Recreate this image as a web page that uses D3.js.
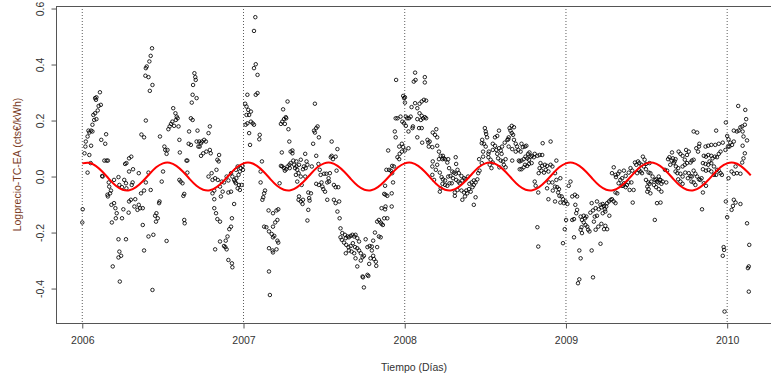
<!DOCTYPE html>
<html>
<head>
<meta charset="utf-8">
<script src="https://cdn.jsdelivr.net/npm/d3@7"></script>
<style>
  body { margin: 0; background: #fff; }
  svg { display: block; }
  text { font-family: "Liberation Sans", Arial, sans-serif; }
</style>
</head>
<body>
<svg id="chart" width="771" height="376"></svg>
<script>
// Axis ticks
const yearTicks = [2006, 2007, 2008, 2009, 2010];
const valueTicks = [-0.4, -0.2, 0.0, 0.2, 0.4, 0.6];

// Daily observations: [days since 2006-01-01, log price], in six consecutive stretches
const part1 = [[1,-0.117],[0,-0.164],[12,0.014],[5,0.083],[7,0.107],[8,0.125],[12,0.143],[16,0.157],[14,0.164],[20,0.164],[23,0.161],[20,0.110],[16,0.077],[19,0.048],[23,0.185],[27,0.202],[25,0.220],[29,0.226],[32,0.205],[35,0.236],[37,0.252],[29,0.280],[32,0.283],[31,0.274],[40,0.301],[42,0.256],[43,0.131],[52,0.117],[54,0.151],[50,0.057],[55,0.057],[58,0.057],[45,0.002],[46,0.000],[60,-0.021],[61,-0.036],[65,-0.050],[63,-0.060],[58,-0.071],[57,-0.065],[66,-0.101],[72,-0.095],[75,-0.113],[78,-0.131],[76,-0.149],[67,-0.164],[72,-0.012],[82,-0.002],[84,-0.030],[90,-0.038],[95,-0.012],[99,-0.024],[100,-0.042],[93,-0.117],[90,-0.149],[105,-0.129],[106,-0.089],[110,-0.083],[97,0.045],[100,0.048],[106,0.065],[111,0.071],[106,0.018],[115,0.026],[114,-0.021],[112,-0.030],[120,-0.081],[118,-0.107],[125,-0.119],[128,-0.101],[131,-0.113],[137,-0.113],[128,0.012],[133,-0.060],[140,-0.050],[150,0.014],[155,-0.048],[144,-0.021],[82,-0.224],[99,-0.224],[84,-0.268],[88,-0.283],[82,-0.289],[69,-0.321],[85,-0.375],[137,-0.173],[150,-0.214],[161,-0.208],[140,-0.264],[159,-0.405],[165,-0.140],[168,-0.131],[171,-0.149],[174,-0.095],[175,-0.089],[167,-0.161],[191,-0.230],[144,0.200],[134,0.150],[140,0.140],[176,0.143],[144,0.387],[146,0.393],[143,0.360],[150,0.355],[159,0.327],[153,0.306],[152,0.411],[155,0.431],[158,0.458],[180,-0.018],[183,0.018],[186,0.107],[188,0.095],[191,0.081],[193,0.095],[195,0.169],[198,0.179],[201,0.188],[204,0.196],[208,0.181],[212,0.202],[214,0.214],[216,0.208],[206,0.244],[211,0.226],[218,0.179],[220,0.131],[221,0.086],[236,0.057],[220,-0.012],[223,-0.018],[227,-0.024],[231,-0.062],[229,-0.069],[231,-0.155],[232,-0.167]];
const part2 = [[254,0.369],[256,0.355],[257,0.345],[251,0.327],[250,0.292],[259,0.280],[248,0.264],[246,0.208],[250,0.202],[242,0.161],[241,0.117],[246,0.113],[238,0.057],[238,0.014],[261,0.164],[259,0.125],[265,0.125],[269,0.119],[263,0.107],[266,0.107],[271,0.125],[276,0.131],[280,0.125],[286,0.155],[289,0.179],[269,0.074],[274,0.083],[281,0.089],[289,0.095],[291,0.083],[310,0.077],[306,0.060],[309,0.054],[304,0.024],[293,0.012],[286,0.000],[301,-0.006],[295,-0.012],[307,-0.012],[316,-0.018],[312,-0.036],[299,-0.050],[295,-0.060],[318,-0.054],[321,-0.021],[331,-0.014],[327,0.000],[337,0.012],[340,0.000],[348,0.024],[352,0.036],[344,-0.012],[346,-0.018],[349,-0.006],[354,0.006],[357,0.018],[359,0.030],[363,0.038],[364,0.024],[348,-0.024],[355,-0.030],[361,-0.030],[352,-0.042],[357,-0.048],[299,-0.081],[314,-0.071],[331,-0.057],[337,-0.054],[344,-0.098],[299,-0.113],[303,-0.131],[306,-0.152],[312,-0.161],[339,-0.149],[337,-0.179],[333,-0.188],[329,-0.214],[325,-0.229],[312,-0.232],[321,-0.248],[324,-0.252],[327,-0.260],[301,-0.260],[331,-0.298],[339,-0.310],[340,-0.324],[369,0.260],[372,0.250],[376,0.238],[382,0.232],[372,0.220],[378,0.220],[370,0.185],[374,0.190],[382,0.196],[386,0.190],[389,0.185],[378,0.155],[380,0.113],[374,0.292],[393,0.292],[397,0.298],[392,0.569],[389,0.520],[393,0.401],[389,0.387],[397,0.363],[402,0.149],[401,0.133],[407,0.054],[404,0.018],[404,-0.021],[414,-0.050],[412,-0.060],[410,-0.074],[408,-0.083],[422,-0.121],[432,-0.131],[440,-0.121],[444,-0.117],[442,-0.155],[437,-0.164],[432,-0.179],[412,-0.179],[417,-0.181],[423,-0.196],[429,-0.205],[435,-0.212],[432,-0.217],[442,-0.229],[444,-0.236],[423,-0.256],[431,-0.264],[432,-0.271],[440,-0.260],[423,-0.339],[425,-0.423],[447,-0.024],[450,0.188],[453,0.196],[457,0.205],[461,0.212],[462,0.208],[459,0.188],[465,0.268],[455,0.240],[467,0.169],[469,0.125],[472,0.089],[476,0.093],[476,0.083],[452,0.086],[450,0.038],[453,0.036],[457,0.030],[459,0.021],[462,0.026],[465,0.036],[469,0.042],[470,0.030],[472,0.048],[478,0.057],[480,0.042],[482,0.030],[485,0.036],[487,0.024],[490,0.012],[484,0.006],[491,0.042],[485,0.054],[487,-0.018],[491,-0.071],[490,-0.083],[495,0.060],[495,0.000]];
const part3 = [[497,-0.030],[499,-0.098],[500,-0.083],[495,-0.089],[505,0.081],[508,0.054],[510,0.042],[502,0.036],[500,0.026],[506,0.030],[505,0.000],[512,-0.057],[518,-0.060],[514,-0.077],[515,-0.086],[512,-0.119],[510,-0.157],[520,0.036],[523,0.117],[527,0.260],[525,0.164],[527,0.157],[530,0.173],[533,0.179],[536,0.140],[530,0.074],[535,0.045],[538,0.024],[540,0.006],[530,-0.026],[536,-0.030],[542,-0.021],[544,-0.036],[546,-0.045],[550,-0.054],[548,0.010],[553,0.010],[558,-0.006],[561,0.012],[555,-0.021],[559,-0.018],[555,-0.083],[563,0.069],[565,0.074],[568,0.062],[574,0.071],[565,0.125],[578,0.098],[576,0.021],[570,-0.030],[574,-0.038],[580,-0.038],[570,-0.083],[574,-0.095],[582,-0.089],[578,-0.125],[583,-0.149],[585,-0.185],[589,-0.202],[585,-0.217],[588,-0.226],[595,-0.208],[597,-0.220],[601,-0.214],[604,-0.217],[608,-0.212],[612,-0.208],[616,-0.214],[619,-0.208],[623,-0.220],[627,-0.232],[593,-0.236],[598,-0.244],[603,-0.252],[608,-0.248],[613,-0.238],[618,-0.252],[623,-0.256],[627,-0.264],[597,-0.274],[604,-0.264],[610,-0.268],[616,-0.274],[619,-0.292],[623,-0.321],[631,-0.274],[635,-0.288],[638,-0.283],[631,-0.300],[642,-0.224],[646,-0.252],[651,-0.248],[656,-0.250],[659,-0.229],[663,-0.200],[668,-0.252],[672,-0.214],[676,-0.217],[656,-0.264],[659,-0.283],[661,-0.295],[665,-0.304],[666,-0.319],[653,-0.292],[650,-0.312],[646,-0.351],[648,-0.355],[635,-0.357],[638,-0.396],[636,-0.360],[668,-0.161],[672,-0.155],[676,-0.164],[678,-0.169],[681,-0.173],[684,-0.149],[678,-0.113],[686,-0.117],[691,-0.149],[687,-0.107],[701,-0.107],[684,-0.062],[687,-0.065],[691,-0.069],[701,-0.060],[686,-0.033],[689,0.024],[695,0.024],[699,0.021],[704,-0.021],[702,0.038],[693,0.093],[708,0.161],[710,0.140],[710,0.208],[714,0.208],[721,0.214],[725,0.196],[711,0.345],[727,0.288],[729,0.280],[731,0.283],[731,0.264],[733,0.214],[736,0.208],[740,0.208],[729,0.190],[733,0.181],[739,0.161],[718,0.107],[724,0.117],[719,0.081],[714,0.069],[718,0.062],[724,0.089],[727,0.105],[731,0.093],[739,0.101],[706,0.036],[702,0.012]];
const part4 = [[754,0.371],[755,0.345],[751,0.339],[776,0.355],[776,0.336],[746,0.248],[748,0.173],[749,0.179],[744,0.214],[754,0.262],[759,0.244],[764,0.260],[769,0.268],[774,0.274],[779,0.271],[764,0.226],[769,0.217],[772,0.208],[776,0.212],[779,0.208],[767,0.202],[759,0.205],[763,0.173],[769,0.173],[759,0.140],[770,0.121],[782,0.131],[784,0.121],[787,0.125],[785,0.107],[794,0.157],[799,0.149],[802,0.169],[804,0.140],[793,0.105],[804,0.110],[808,0.089],[812,0.074],[816,0.062],[817,0.074],[822,0.062],[819,0.065],[808,0.062],[794,0.054],[793,0.036],[801,0.024],[804,0.042],[810,0.014],[793,0.006],[797,-0.012],[814,-0.002],[817,-0.010],[822,-0.014],[827,0.050],[829,0.062],[831,0.030],[846,0.069],[847,0.045],[838,0.018],[842,0.014],[846,0.010],[850,0.024],[853,0.012],[859,0.002],[829,0.000],[834,0.002],[840,-0.006],[847,-0.012],[852,-0.018],[855,-0.024],[861,-0.014],[865,-0.006],[868,-0.010],[874,0.000],[816,-0.026],[822,-0.030],[827,-0.033],[832,-0.024],[837,-0.024],[812,-0.042],[810,-0.054],[844,-0.057],[850,-0.048],[859,-0.050],[865,-0.057],[870,-0.050],[876,-0.045],[884,-0.038],[877,-0.026],[882,-0.021],[887,-0.030],[891,-0.021],[887,-0.014],[895,-0.010],[897,0.012],[900,0.021],[844,-0.069],[861,-0.083],[867,-0.071],[872,-0.060],[880,-0.054],[891,-0.074],[887,-0.101],[899,0.062],[905,0.048],[908,0.071],[912,0.173],[914,0.161],[915,0.152],[917,0.140],[906,0.131],[905,0.119],[910,0.117],[914,0.107],[908,0.089],[920,0.081],[920,0.069],[921,0.089],[925,0.060],[923,0.042],[927,0.030],[930,0.050],[935,0.140],[940,0.145],[944,0.164],[930,0.117],[935,0.110],[938,0.095],[930,0.095],[940,0.081],[944,0.101],[948,0.093],[950,0.081],[942,0.065],[948,0.057],[953,0.054],[955,0.042],[945,0.033],[959,0.062],[951,0.107],[957,0.121],[963,0.131],[966,0.140],[968,0.173],[973,0.181],[978,0.176],[970,0.164],[973,0.155],[976,0.149],[965,0.133],[978,0.131],[966,0.107],[974,0.098],[982,0.117],[985,0.107],[988,0.095],[982,0.089],[974,0.057],[989,0.057],[991,0.026],[959,0.033]];
const part5 = [[995,0.117],[998,0.105],[1003,0.107],[1006,0.110],[993,0.089],[991,0.054],[995,0.057],[1000,0.062],[1004,0.071],[1010,0.081],[1013,0.086],[1008,0.065],[1012,0.060],[1016,0.071],[1019,0.074],[1023,0.069],[1003,0.042],[1008,0.038],[1012,0.045],[1018,0.048],[995,0.026],[1000,0.033],[1025,0.081],[1031,0.074],[1036,0.077],[1042,0.077],[1043,0.119],[1061,0.125],[1038,0.048],[1042,0.038],[1048,0.042],[1053,0.038],[1061,0.042],[1065,0.036],[1036,0.030],[1040,0.021],[1046,0.014],[1050,0.024],[1056,0.018],[1034,0.012],[1074,0.057],[1071,0.012],[1057,-0.021],[1065,-0.021],[1074,-0.012],[1083,-0.006],[1071,-0.036],[1076,-0.038],[1080,-0.045],[1053,-0.042],[1066,-0.050],[1078,-0.057],[1081,-0.069],[1086,-0.071],[1089,-0.081],[1095,-0.089],[1091,-0.095],[1099,-0.098],[1102,-0.033],[1106,-0.018],[1025,-0.018],[1027,-0.033],[1033,-0.057],[1056,-0.081],[1071,-0.089],[1083,-0.093],[1031,-0.181],[1033,-0.250],[1089,-0.238],[1093,-0.188],[1096,-0.155],[1110,-0.071],[1116,-0.065],[1121,-0.071],[1110,-0.155],[1114,-0.152],[1119,-0.131],[1117,-0.101],[1121,-0.119],[1129,-0.143],[1132,-0.155],[1136,-0.140],[1139,-0.149],[1142,-0.143],[1136,-0.164],[1140,-0.173],[1144,-0.179],[1131,-0.181],[1129,-0.190],[1132,-0.202],[1114,-0.217],[1146,-0.190],[1149,-0.196],[1151,-0.129],[1157,-0.121],[1163,-0.113],[1166,-0.089],[1154,-0.095],[1161,-0.143],[1166,-0.140],[1170,-0.117],[1174,-0.101],[1176,-0.110],[1179,-0.098],[1182,-0.105],[1184,-0.117],[1187,-0.107],[1189,-0.095],[1193,-0.089],[1197,-0.083],[1200,-0.081],[1204,-0.089],[1208,-0.095],[1185,-0.125],[1179,-0.131],[1159,-0.161],[1163,-0.190],[1169,-0.179],[1176,-0.169],[1182,-0.188],[1185,-0.176],[1189,-0.188],[1194,-0.140],[1174,-0.240],[1126,-0.264],[1129,-0.292],[1154,-0.264],[1157,-0.360],[1126,-0.367],[1123,-0.381],[1200,0.012],[1204,0.033],[1208,0.006],[1209,-0.002],[1214,0.010],[1217,0.018],[1219,-0.012],[1223,-0.006],[1227,-0.024],[1225,-0.033],[1231,-0.038],[1234,-0.030],[1231,0.002],[1227,0.021],[1238,0.014],[1237,-0.021],[1240,-0.048],[1212,-0.060],[1208,-0.057],[1215,-0.024],[1222,-0.033]];
const part6 = [[1242,0.030],[1246,0.021],[1244,-0.021],[1249,-0.048],[1247,-0.093],[1252,0.050],[1255,0.042],[1259,0.054],[1262,0.048],[1267,0.042],[1270,0.071],[1274,0.060],[1277,0.045],[1272,0.036],[1261,0.024],[1265,0.018],[1268,0.012],[1277,0.026],[1257,0.012],[1285,0.048],[1287,0.012],[1283,0.014],[1277,-0.012],[1282,-0.021],[1285,-0.026],[1289,-0.018],[1280,-0.036],[1283,-0.045],[1287,-0.060],[1280,-0.054],[1292,0.000],[1297,-0.012],[1300,-0.010],[1302,-0.018],[1306,0.000],[1308,-0.012],[1305,-0.021],[1310,-0.012],[1312,-0.026],[1315,-0.018],[1295,-0.030],[1300,-0.038],[1306,-0.045],[1312,-0.054],[1302,-0.095],[1310,-0.093],[1297,-0.155],[1320,0.024],[1325,0.021],[1323,-0.021],[1327,0.062],[1330,0.069],[1335,0.057],[1338,0.065],[1342,0.054],[1336,0.086],[1344,0.062],[1340,0.048],[1332,0.042],[1345,0.036],[1350,0.030],[1351,0.089],[1355,0.081],[1360,0.074],[1365,0.060],[1368,0.095],[1370,0.077],[1374,0.089],[1378,0.050],[1381,0.057],[1385,0.060],[1370,0.048],[1365,0.042],[1360,0.036],[1344,0.018],[1348,0.012],[1355,0.010],[1360,0.000],[1366,0.014],[1350,-0.010],[1355,-0.018],[1360,-0.026],[1374,0.012],[1378,0.002],[1381,0.000],[1385,0.021],[1389,0.010],[1372,-0.006],[1380,-0.018],[1385,-0.021],[1389,-0.030],[1393,0.000],[1397,-0.010],[1400,-0.012],[1395,0.089],[1398,0.117],[1397,0.107],[1391,0.101],[1385,0.161],[1393,0.157],[1412,0.107],[1418,0.110],[1425,0.113],[1434,0.113],[1442,0.117],[1451,0.121],[1436,0.164],[1408,0.074],[1413,0.071],[1418,0.077],[1425,0.074],[1428,0.065],[1433,0.071],[1438,0.069],[1442,0.081],[1446,0.089],[1406,0.048],[1412,0.045],[1418,0.042],[1421,0.054],[1425,0.048],[1431,0.036],[1406,0.026],[1413,0.021],[1419,0.024],[1425,0.018],[1431,0.006],[1436,0.006],[1442,0.021],[1446,0.012],[1449,0.006],[1403,-0.006],[1408,-0.024],[1406,-0.057],[1413,-0.033],[1404,-0.117],[1438,0.024],[1458,0.193],[1461,0.145],[1464,0.133],[1468,0.121],[1472,0.113],[1476,0.125],[1463,0.107],[1466,0.107],[1457,0.095],[1464,-0.006],[1471,0.018],[1476,0.010],[1483,0.012],[1491,0.010],[1480,0.036],[1476,0.164],[1483,0.161],[1487,0.164],[1491,0.176],[1495,0.179],[1501,0.185],[1496,0.161],[1504,0.205],[1502,0.238],[1486,0.252],[1498,0.143],[1496,0.110],[1501,0.083],[1498,0.065],[1495,0.050],[1506,0.129],[1458,-0.089],[1476,-0.083],[1480,-0.093],[1474,-0.105],[1471,-0.119],[1491,-0.098],[1461,-0.145],[1506,-0.167],[1453,-0.252],[1454,-0.262],[1451,-0.283],[1455,-0.482],[1511,-0.244],[1510,-0.321],[1508,-0.327],[1510,-0.411]];

// Fitted seasonal component, sampled every half month from 2006.0
const fitValues = [
  0.047,0.049,0.038,0.017,-0.009,-0.033,-0.047,-0.049,-0.038,-0.017,0.009,0.033,
  0.047,0.049,0.038,0.017,-0.009,-0.033,-0.047,-0.049,-0.038,-0.017,0.009,0.033,
  0.047,0.049,0.038,0.017,-0.009,-0.033,-0.047,-0.049,-0.038,-0.017,0.009,0.033,
  0.047,0.049,0.038,0.017,-0.009,-0.033,-0.047,-0.049,-0.038,-0.017,0.009,0.033,
  0.047,0.049,0.038,0.017,-0.009,-0.033,-0.047,-0.049,-0.038,-0.017,0.009,0.033,
  0.047,0.049,0.038,0.017,-0.009,-0.033,-0.047,-0.049,-0.038,-0.017,0.009,0.033,
  0.047,0.049,0.038,0.017,-0.009,-0.033,-0.047,-0.049,-0.038,-0.017,0.009,0.033,
  0.047,0.049,0.038,0.017,-0.009,-0.033,-0.047,-0.049,-0.038,-0.017,0.009,0.033,
  0.047,0.049,0.038,0.017
];
const fitLast = [2010.146, 0.004];

const svg = d3.select("#chart");
const plotLeft = 56, plotRight = 782, plotTop = 6, plotBottom = 323;

const x = d3.scaleLinear().domain([2005.837, 2010.34]).range([plotLeft, plotRight]);
const y = d3.scaleLinear().domain([-0.523, 0.609]).range([plotBottom, plotTop]);
const dayToYear = d => 2006 + d / 365.25;

const points = [].concat(part1, part2, part3, part4, part5, part6);
const fit = fitValues.map((v, k) => [2006 + k / 24, v]).concat([fitLast]);

// Year separators
svg.append("g").selectAll("line").data(yearTicks).join("line")
  .attr("x1", d => x(d)).attr("x2", d => x(d))
  .attr("y1", plotTop).attr("y2", plotBottom)
  .attr("stroke", "#333").attr("stroke-width", 0.8)
  .attr("stroke-dasharray", "1,2");

// Observations
svg.append("g").selectAll("circle").data(points).join("circle")
  .attr("cx", d => x(dayToYear(d[0])))
  .attr("cy", d => y(d[1]))
  .attr("r", 1.75)
  .attr("fill", "none")
  .attr("stroke", "#000")
  .attr("stroke-width", 0.85);

// Seasonal fit
svg.append("path").datum(fit)
  .attr("fill", "none")
  .attr("stroke", "#ff0000")
  .attr("stroke-width", 2)
  .attr("d", d3.line().x(d => x(d[0])).y(d => y(d[1])).curve(d3.curveNatural));

// Box
svg.append("rect")
  .attr("x", plotLeft + 0.5).attr("y", plotTop + 0.5)
  .attr("width", plotRight - plotLeft).attr("height", plotBottom - plotTop)
  .attr("fill", "none").attr("stroke", "#555").attr("stroke-width", 1);

// Axes
const xAxis = d3.axisBottom(x).tickValues(yearTicks).tickFormat(d3.format("d")).tickSize(5).tickPadding(8);
const gx = svg.append("g").attr("transform", `translate(0,${plotBottom + 0.5})`).call(xAxis);
gx.select(".domain").remove();
gx.selectAll("line").attr("stroke", "#555");
gx.selectAll("text").attr("fill", "#333").attr("font-size", 10.5)
  .attr("font-family", "'Liberation Sans', Arial, sans-serif");

const yAxis = d3.axisLeft(y).tickValues(valueTicks).tickSize(5).tickPadding(8);
const gy = svg.append("g").attr("transform", `translate(${plotLeft + 0.5},0)`).call(yAxis);
gy.select(".domain").remove();
gy.selectAll("line").attr("stroke", "#555");
gy.selectAll("text")
  .attr("fill", "#333").attr("font-size", 10.5)
  .attr("font-family", "'Liberation Sans', Arial, sans-serif")
  .attr("text-anchor", "middle")
  .attr("x", null).attr("dy", null)
  .attr("transform", "translate(-12.5,0) rotate(-90)")
  .text(d => d.toFixed(1));

// Axis titles
svg.append("text")
  .attr("x", (plotLeft + 771) / 2 + 0.5).attr("y", 370.5)
  .attr("text-anchor", "middle").attr("font-size", 10.5).attr("fill", "#333")
  .text("Tiempo (Días)");

svg.append("text")
  .attr("transform", `translate(21,${(plotTop + plotBottom) / 2}) rotate(-90)`)
  .attr("text-anchor", "middle").attr("font-size", 10.5).attr("fill", "#7a3b1e")
  .text("Logprecio-TC-EA (cts€/kWh)");
</script>
</body>
</html>
